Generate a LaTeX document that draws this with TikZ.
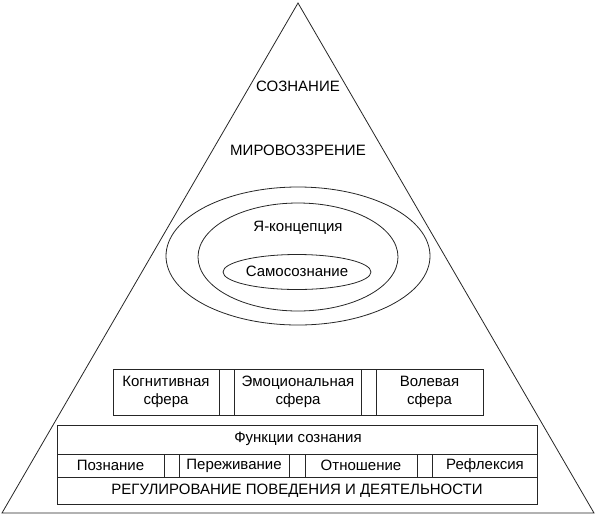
\documentclass[tikz,border=0pt]{standalone}
\usepackage{fontspec}
\setmainfont{Liberation Sans}
\begin{document}
\begin{tikzpicture}[x=1pt,y=-1pt,
  line/.style={draw=black!85,line width=0.8pt},
  txt/.style={inner sep=0pt,font=\fontsize{15}{18}\selectfont,align=center},
  cell/.style={draw=black!85,line width=0.8pt}]
\useasboundingbox (0,0) rectangle (596,517);
% triangle
\coordinate (apex) at (298,3);
\coordinate (bl) at (2,513);
\coordinate (br) at (594,513);
\draw[line] (apex) -- (bl) -- (br) -- cycle;
% titles
\node[txt] (soz) at (298,86) {СОЗНАНИЕ};
\node[txt] (mir) at (298,150) {МИРОВОЗЗРЕНИЕ};
% ellipses
\draw[line] (298,256) ellipse [x radius=132, y radius=69];
\draw[line] (298,257) ellipse [x radius=100, y radius=54];
\draw[line] (297,272) ellipse [x radius=74, y radius=17.5];
\node[txt] (ya) at (298,228) {Я-концепция};
\node[txt] (sam) at (297,271) {Самосознание};
% spheres box
\draw[cell] (113,369) rectangle (483,415);
\draw[cell] (219,369) -- (219,415);
\draw[cell] (234,369) -- (234,415);
\draw[cell] (361.7,369) -- (361.7,415);
\draw[cell] (376,369) -- (376,415);
\node[txt] (kog) at (166,392) {Когнитивная\\сфера};
\node[txt] (emo) at (298,392) {Эмоциональная\\сфера};
\node[txt] (vol) at (429.5,392) {Волевая\\сфера};
% functions box
\draw[cell] (57,425) rectangle (537,504);
\draw[cell] (57,454) -- (537,454);
\draw[cell] (57,477) -- (537,477);
\foreach \x in {164,179.3,289,305,417,432.7} \draw[cell] (\x,454) -- (\x,477);
\node[txt] (fun) at (298,439) {Функции сознания};
\node[txt] (poz) at (110.5,465.5) {Познание};
\node[txt] (per) at (234,465.5) {Переживание};
\node[txt] (otn) at (361,465.5) {Отношение};
\node[txt] (ref) at (485,465.5) {Рефлексия};
\node[txt] (reg) at (297,491) {РЕГУЛИРОВАНИЕ ПОВЕДЕНИЯ И ДЕЯТЕЛЬНОСТИ};
\end{tikzpicture}
\end{document}
